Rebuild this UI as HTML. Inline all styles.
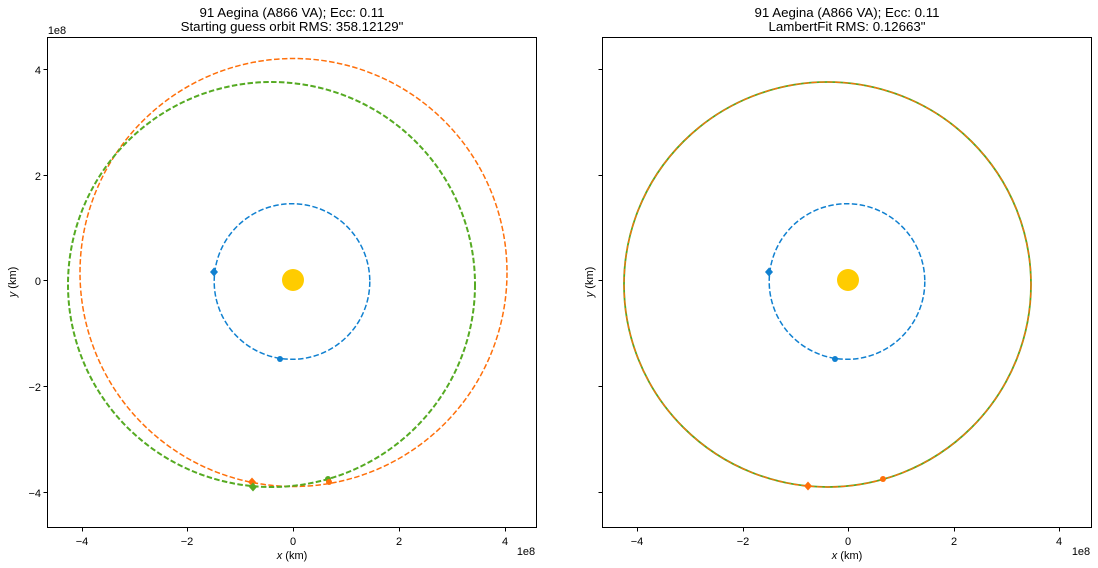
<!DOCTYPE html>
<html><head><meta charset="utf-8"><style>body{margin:0;background:#fff}svg{display:block;font-family:"Liberation Sans",sans-serif}</style></head><body>
<svg width="1098" height="568" viewBox="0 0 1098 568" xmlns="http://www.w3.org/2000/svg">
<rect width="1098" height="568" fill="#fff"/>
<g font-size="13.3" fill="#000" text-anchor="middle">
<text x="292" y="17">91 Aegina (A866 VA); Ecc: 0.11</text>
<text x="292" y="31">Starting guess orbit RMS: 358.12129"</text>
<text x="847" y="17">91 Aegina (A866 VA); Ecc: 0.11</text>
<text x="847" y="31">LambertFit RMS: 0.12663"</text>
</g>
<!-- left axes -->
<g stroke-width="1.5" fill="none">
<ellipse cx="293.5" cy="272.5" rx="213.5" ry="214" stroke="#ff6f0a" stroke-dasharray="5.5,2.4"/>
<ellipse cx="271.5" cy="284.5" rx="203.5" ry="202.5" stroke="#55aa22" stroke-width="2" stroke-dasharray="5.5,2.4"/>
<circle cx="292" cy="281.5" r="77.8" stroke="#1080d0" stroke-dasharray="5.5,2.4"/>
</g>
<circle cx="293" cy="280" r="11" fill="#ffcc00"/>
<path d="M214 267.5l4 4.5-4 4.5-4-4.5z" fill="#1080d0"/>
<circle cx="280" cy="359" r="3" fill="#1080d0"/>
<path d="M252 477.5l4 4.5-4 4.5-4-4.5z" fill="#ff6f0a"/>
<path d="M253 482.5l4 4.5-4 4.5-4-4.5z" fill="#55aa22"/>
<circle cx="328" cy="479" r="3" fill="#55aa22"/>
<circle cx="329" cy="482" r="3" fill="#ff6f0a"/>
<!-- right axes -->
<g stroke-width="1.5" fill="none">
<ellipse cx="827.5" cy="284.5" rx="203.5" ry="202.5" stroke="#55aa22" stroke-width="1.8"/>
<ellipse cx="827.5" cy="284.5" rx="203.5" ry="202.5" stroke="#ff6f0a" stroke-width="1.2" stroke-dasharray="5.5,2.4"/>
<circle cx="847" cy="281.5" r="77.8" stroke="#1080d0" stroke-dasharray="5.5,2.4"/>
</g>
<circle cx="848" cy="280" r="11" fill="#ffcc00"/>
<path d="M769 267.5l4 4.5-4 4.5-4-4.5z" fill="#1080d0"/>
<circle cx="835" cy="359" r="3" fill="#1080d0"/>
<path d="M808 481.5l4 4.5-4 4.5-4-4.5z" fill="#ff6f0a"/>
<circle cx="883" cy="479" r="3" fill="#ff6f0a"/>
<!-- frames -->
<g fill="none" stroke="#000" stroke-width="1">
<rect x="47.5" y="37.5" width="489" height="490"/>
<rect x="602.5" y="37.5" width="489" height="490"/>
<path d="M82.5 527.5v4M187.5 527.5v4M293.5 527.5v4M399.5 527.5v4M505.5 527.5v4"/>
<path d="M637.5 527.5v4M743.5 527.5v4M848.5 527.5v4M954.5 527.5v4M1059.5 527.5v4"/>
<path d="M47.5 69.5h-4M47.5 175.5h-4M47.5 280.5h-4M47.5 386.5h-4M47.5 492.5h-4"/>
<path d="M602.5 69.5h-4M602.5 175.5h-4M602.5 280.5h-4M602.5 386.5h-4M602.5 492.5h-4"/>
</g>
<g font-size="11" fill="#000" text-anchor="middle">
<text x="82" y="545">−4</text><text x="187" y="545">−2</text><text x="293" y="545">0</text><text x="399" y="545">2</text><text x="505" y="545">4</text>
<text x="637" y="545">−4</text><text x="743" y="545">−2</text><text x="848" y="545">0</text><text x="954" y="545">2</text><text x="1059" y="545">4</text>
<text x="292" y="559"><tspan font-style="italic">x</tspan> (km)</text>
<text x="847" y="559"><tspan font-style="italic">x</tspan> (km)</text>
<text x="526" y="555">1e8</text><text x="1081" y="555">1e8</text>
<text x="57" y="34">1e8</text>
</g>
<g font-size="11" fill="#000" text-anchor="end">
<text x="41" y="74">4</text><text x="41" y="180">2</text><text x="41" y="285">0</text><text x="41" y="391">−2</text><text x="41" y="497">−4</text>
</g>
<g font-size="11" fill="#000" text-anchor="middle">
<text transform="translate(16,282) rotate(-90)"><tspan font-style="italic">y</tspan> (km)</text>
<text transform="translate(593,282) rotate(-90)"><tspan font-style="italic">y</tspan> (km)</text>
</g>
</svg>
</body></html>
